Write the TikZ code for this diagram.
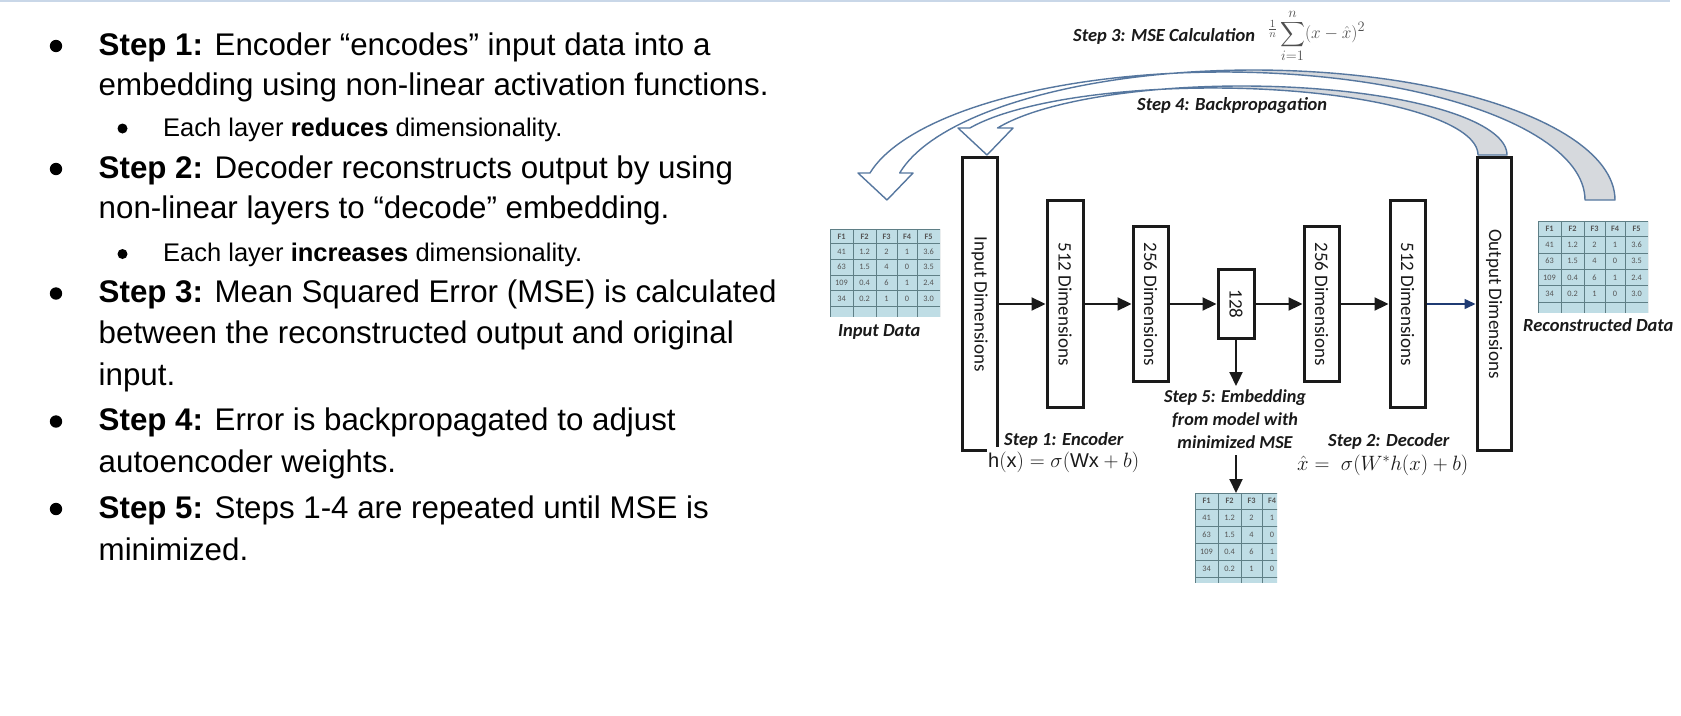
\documentclass[tikz,border=0pt]{standalone}
\usepackage{exscale}
\usepackage{fontspec}
\setmainfont{Liberation Sans}
\newfontfamily\calfont{Carlito}
\usetikzlibrary{arrows.meta}
\definecolor{rulecol}{HTML}{C9D7E8}
\definecolor{arrowline}{HTML}{56779F}
\definecolor{arrowshade}{HTML}{D6D9DD}
\definecolor{cellfill}{HTML}{BFDDE5}
\definecolor{cellline}{HTML}{5F7F86}
\definecolor{celltext}{HTML}{555555}
\definecolor{navy}{HTML}{1F3B73}
\definecolor{ink}{HTML}{1A1A1A}
\definecolor{mathgray}{HTML}{505050}
\tikzset{
  mainline/.style={anchor=base west, inner sep=0pt, font=\fontsize{31.3}{38}\selectfont},
  subline/.style={anchor=base west, inner sep=0pt, font=\fontsize{25.5}{30}\selectfont},
  layerbox/.style={draw=ink, line width=3pt, fill=white, inner sep=0pt},
  layertext/.style={font=\calfont\fontsize{19}{22}\selectfont, rotate=-90, text=ink, inner sep=0pt},
  flow/.style={draw=ink, line width=2.2pt, -{Triangle[length=14pt,width=13pt]}},
  flowblue/.style={draw=navy, line width=1.5pt, -{Triangle[length=11pt,width=10pt]}},
  steplabel/.style={font=\calfont\bfseries\itshape\fontsize{18.5}{22}\selectfont, text=ink, inner sep=0pt},
  smalllabel/.style={font=\calfont\bfseries\itshape\fontsize{18.2}{22}\selectfont, text=ink, inner sep=0pt, anchor=base},
  formula/.style={font=\fontsize{20}{24}\selectfont, text=ink, inner sep=0pt},
  cell/.style={font=\calfont\fontsize{8.3}{10}\selectfont, text=celltext, inner sep=0pt},
  cellhead/.style={font=\calfont\bfseries\fontsize{8.3}{10}\selectfont, text=celltext, inner sep=0pt},
  cellrule/.style={draw=cellline, line width=0.8pt},
  bandedge/.style={draw=arrowline, line width=1.4pt, line join=round},
}
\newcommand\datatab[6]{%
  \begin{scope}[shift={(#2,#3)}, yscale=#6]
    \clip (0,0) rectangle (#4,#5);
    \fill[cellfill] (0,0) rectangle (110,96);
    \foreach \cx in {0,23,46,67,87,110} {\draw[cellrule] (\cx,0) -- (\cx,96);}
    \foreach \ry in {0,15,31,47,63,79} {\draw[cellrule] (0,\ry) -- (110,\ry);}
    \foreach \cx/\t [count=\k] in {11.5/F1,34.5/F2,56.5/F3,77/F4,98.5/F5}
      {\node[cellhead] (#1-h\k) at (\cx,7.5) {\t};}
    \foreach \ry/\va/\vb/\vc/\vd/\ve [count=\k] in {23/41/1.2/2/1/3.6, 39/63/1.5/4/0/3.5, 55/109/0.4/6/1/2.4, 71/34/0.2/1/0/3.0}
      {\node[cell] (#1-\k a) at (11.5,\ry) {\va};
       \node[cell] (#1-\k b) at (34.5,\ry) {\vb};
       \node[cell] (#1-\k c) at (56.5,\ry) {\vc};
       \node[cell] (#1-\k d) at (77,\ry) {\vd};
       \node[cell] (#1-\k e) at (98.5,\ry) {\ve};}
  \end{scope}}
\begin{document}
\begin{tikzpicture}[x=1pt,y=-1pt]
\useasboundingbox (0,0) rectangle (1681,715);
\fill[white] (0,0) rectangle (1681,715);
\draw[rulecol, line width=2pt] (0,1) -- (1670,1);

% ---------- left bullet text ----------
\node[mainline] (s1a) at (98.5,55) {\textbf{Step 1:} Encoder “encodes” input data into a};
\node[mainline] (s1b) at (98.5,95.5) {embedding using non-linear activation functions.};
\node[subline] (s1c) at (163,136) {Each layer \textbf{reduces} dimensionality.};
\node[mainline] (s2a) at (98.5,178) {\textbf{Step 2:} Decoder reconstructs output by using};
\node[mainline] (s2b) at (98.5,218) {non-linear layers to “decode” embedding.};
\node[subline] (s2c) at (163,261.5) {Each layer \textbf{increases} dimensionality.};
\node[mainline] (s3a) at (98.5,302.5) {\textbf{Step 3:} Mean Squared Error (MSE) is calculated};
\node[mainline] (s3b) at (98.5,343.5) {between the reconstructed output and original};
\node[mainline] (s3c) at (98.5,385.5) {input.};
\node[mainline] (s4a) at (98.5,430.5) {\textbf{Step 4:} Error is backpropagated to adjust};
\node[mainline] (s4b) at (98.5,472.5) {autoencoder weights.};
\node[mainline] (s5a) at (98.5,518) {\textbf{Step 5:} Steps 1-4 are repeated until MSE is};
\node[mainline] (s5b) at (98.5,560) {minimized.};
\foreach \by in {55,178,302.5,430.5,518} {\fill (56,\by-9) circle (6.2pt);}
\foreach \by in {136,261.5} {\fill (122.5,\by-7.5) circle (5pt);}

% ---------- outer curved arrow ----------
\fill[white] plot[domain=167.82:0,samples=90] ({1223.4+361.6*cos(\x)},{200-128*sin(\x)})
  -- plot[domain=0:168.01,samples=90] ({1253.4+361.6*cos(\x)},{200-130*sin(\x)}) -- cycle;
\fill[white] (870,173) -- (858,173) -- (887,200) -- (913,173) -- (900,173) -- cycle;
\fill[arrowshade] plot[domain=90:0,samples=60] ({1253.4+361.6*cos(\x)},{200-130*sin(\x)})
  -- plot[domain=0:90,samples=60] ({1223.4+361.6*cos(\x)},{200-128*sin(\x)}) -- cycle;
\draw[bandedge] plot[domain=0:167.82,samples=90] ({1223.4+361.6*cos(\x)},{200-128*sin(\x)})
  -- (858,173) -- (887,200) -- (913,173)
  -- plot[domain=168.01:0,samples=90] ({1253.4+361.6*cos(\x)},{200-130*sin(\x)}) -- cycle;

% ---------- inner curved arrow ----------
\fill[white] plot[domain=156.23:0,samples=90] ({1212.7+265.3*cos(\x)},{155-67*sin(\x)})
  -- plot[domain=0:156.96,samples=90] ({1241.7+265.3*cos(\x)},{155-69*sin(\x)}) -- cycle;
\fill[white] (970,128) -- (958,128) -- (987,155) -- (1013,128) -- (998,128) -- cycle;
\fill[arrowshade] plot[domain=90:0,samples=60] ({1241.7+265.3*cos(\x)},{155-69*sin(\x)})
  -- plot[domain=0:90,samples=60] ({1212.7+265.3*cos(\x)},{155-67*sin(\x)}) -- cycle;
\draw[bandedge] plot[domain=0:156.23,samples=90] ({1212.7+265.3*cos(\x)},{155-67*sin(\x)})
  -- (958,128) -- (987,155) -- (1013,128)
  -- plot[domain=156.96:0,samples=90] ({1241.7+265.3*cos(\x)},{155-69*sin(\x)}) -- cycle;

% ---------- top labels ----------
\node[steplabel, anchor=base west] (mselab) at (1073,41) {Step 3: MSE Calculation};
\node[anchor=west, inner sep=0pt, text=mathgray, font=\fontsize{19}{22}\selectfont] (mse) at (1268,36)
  {$\raisebox{6pt}{\fontsize{15}{17}\selectfont$\frac{1}{n}$}\displaystyle\sum_{i=1}^{n}(x-\hat{x})^2$};
\node[steplabel, anchor=base west] (bplab) at (1137,110) {Step 4: Backpropagation};

% ---------- layers ----------
\node[layerbox, minimum width=35pt, minimum height=293pt] (inp) at (979.5,304) {};
\node[layerbox, minimum width=36pt, minimum height=207pt] (e512) at (1065,304) {};
\node[layerbox, minimum width=35pt, minimum height=155pt] (e256) at (1150.5,304) {};
\node[layerbox, minimum width=36pt, minimum height=69pt] (code) at (1236,304) {};
\node[layerbox, minimum width=35pt, minimum height=155pt] (d256) at (1321.5,304) {};
\node[layerbox, minimum width=35pt, minimum height=207pt] (d512) at (1407.5,304) {};
\node[layerbox, minimum width=34pt, minimum height=293pt] (outp) at (1494,304) {};
\node[layertext] (inpt) at (inp) {Input Dimensions};
\node[layertext] (e512t) at (e512) {512 Dimensions};
\node[layertext] (e256t) at (e256) {256 Dimensions};
\node[layertext] (codet) at (code) {128};
\node[layertext] (d256t) at (d256) {256 Dimensions};
\node[layertext] (d512t) at (d512) {512 Dimensions};
\node[layertext] (outpt) at (outp) {Output Dimensions};

\draw[flow] (inp.east) -- (e512.west);
\draw[flow] (e512.east) -- (e256.west);
\draw[flow] (e256.east) -- (code.west);
\draw[flow] (code.east) -- (d256.west);
\draw[flow] (d256.east) -- (d512.west);
\draw[flowblue] (d512.east) -- (outp.west);

% ---------- embedding output ----------
\coordinate (e5top) at (1236,386);
\coordinate (e5bot) at (1236,455);
\coordinate (embtop) at (1236,493);
\draw[flow] (code.south) -- (e5top);
\node[smalllabel] (e5a) at (1235,402.5) {Step 5: Embedding};
\node[smalllabel] (e5b) at (1235,425.5) {from model with};
\node[smalllabel] (e5c) at (1235,448.5) {minimized MSE};
\draw[flow] (e5bot) -- (embtop);

% ---------- encoder / decoder labels ----------
\node[formula, anchor=base west, fill=white, inner xsep=1pt, inner ysep=4pt] (hform) at (987,467) {$\mathrm{h(x)} = \sigma(\mathrm{Wx} + b)$};
\node[steplabel, anchor=base west] (enclab) at (1004,445) {Step 1: Encoder};
\node[steplabel, anchor=base west] (declab) at (1328,446) {Step 2: Decoder};
\node[formula, anchor=base west] (dform) at (1297,470) {$\hat{x} =\; \sigma(W^{*}h(x) + b)$};

% ---------- data tables ----------
\datatab{tin}{830}{229}{110}{89}{0.98}
\datatab{tout}{1538}{221}{110}{89}{1.03}
\datatab{temb}{1195}{493}{82}{84}{1.07}
\node[steplabel, anchor=base west] (inlab) at (838,336) {Input Data};
\node[steplabel, anchor=base west] (outlab) at (1523,331) {Reconstructed Data};
\end{tikzpicture}
\end{document}
